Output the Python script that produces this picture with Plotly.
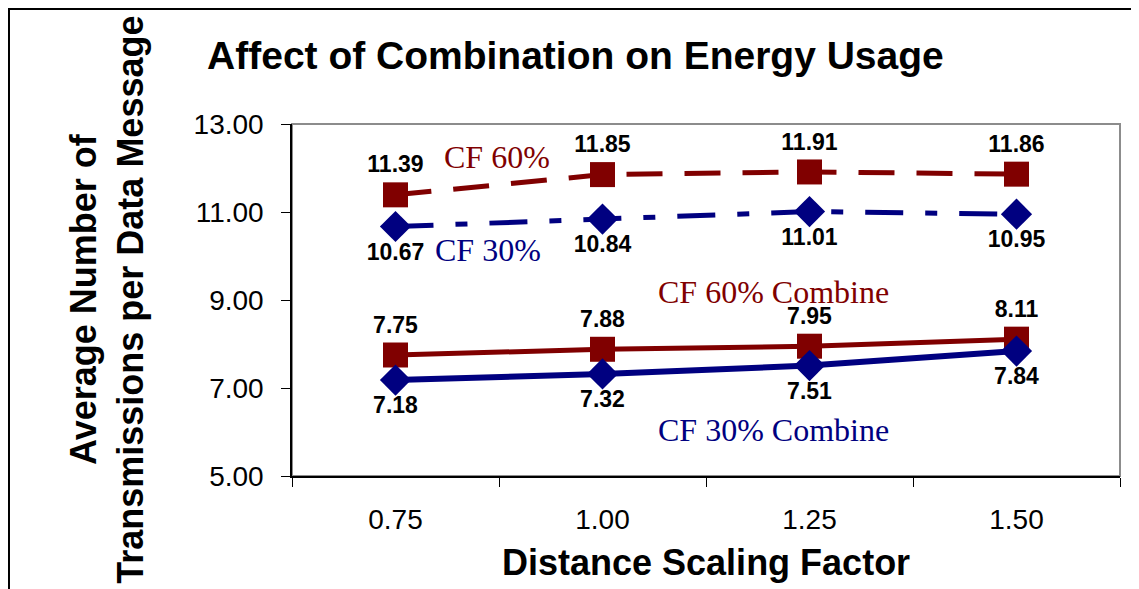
"""Affect of combination on energy usage - line chart."""

import plotly.graph_objects as go

scaling_factors = ["0.75", "1.00", "1.25", "1.50"]
cf60 = [11.39, 11.85, 11.91, 11.86]
cf30 = [10.67, 10.84, 11.01, 10.95]
cf60_combine = [7.75, 7.88, 7.95, 8.11]
cf30_combine = [7.18, 7.32, 7.51, 7.84]

RED = "#800000"
NAVY = "#000080"
SANS = "Liberation Sans, Arial, sans-serif"
SERIF = "Liberation Serif, Times New Roman, serif"

fig = go.Figure()


def add_series(values, color, width, dash, symbol, size, textpos):
    fig.add_trace(go.Scatter(
        x=scaling_factors, y=values, mode="lines+markers+text",
        line=dict(color=color, width=width, dash=dash),
        marker=dict(symbol=symbol, size=size, color=color),
        text=[f"{v:.2f}" for v in values], texttemplate="<b>%{text}</b>",
        textposition=textpos, textfont=dict(family=SANS, size=23, color="black"),
        cliponaxis=False, showlegend=False,
    ))


add_series(cf60, RED, 5, "36px,22px", "square", 25, "top center")
add_series(cf30, NAVY, 5, "38px,22px,12px,22px", "diamond", 24, "bottom center")
add_series(cf60_combine, RED, 5, "solid", "square", 25, "top center")
add_series(cf30_combine, NAVY, 6, "solid", "diamond", 24, "bottom center")

series_notes = [
    ("CF 60%", RED, 0.248, 0.906),
    ("CF 30%", NAVY, 0.237, 0.642),
    ("CF 60% Combine", RED, 0.582, 0.524),
    ("CF 30% Combine", NAVY, 0.582, 0.131),
]
for label, color, ax, ay in series_notes:
    fig.add_annotation(text=label, xref="paper", yref="paper", x=ax, y=ay,
                       xanchor="center", yanchor="middle", showarrow=False,
                       font=dict(family=SERIF, size=32, color=color))

fig.add_annotation(text="<b>Average Number of<br>Transmissions per Data Message</b>",
                   xref="paper", yref="paper", x=-0.2237, y=0.5, textangle=-90,
                   xanchor="center", yanchor="middle", showarrow=False,
                   font=dict(family=SANS, size=36, color="black"))
fig.add_annotation(text="<b>Distance Scaling Factor</b>", xref="paper", yref="paper",
                   x=0.5, y=-0.247, xanchor="center", yanchor="middle", showarrow=False,
                   font=dict(family=SANS, size=36, color="black"))

# gray plot border and outer black frame
fig.add_shape(type="rect", xref="paper", yref="paper", x0=0, x1=1, y0=0, y1=1,
              line=dict(color="#8c8c8c", width=2), layer="below")
fig.add_shape(type="rect", xref="paper", yref="paper", x0=-0.3418, x1=1.0205,
              y0=-0.6, y1=1.3267, line=dict(color="black", width=2))

fig.update_layout(
    width=1131, height=581,
    margin=dict(l=284, r=19, t=116, b=113),
    paper_bgcolor="white", plot_bgcolor="white",
    font=dict(family=SANS, color="black"),
    title=dict(text="<b>Affect of Combination on Energy Usage</b>", xref="container",
               yref="container", x=0.176, xanchor="left", y=0.919, yanchor="middle",
               font=dict(family=SANS, size=39, color="black")),
    xaxis=dict(type="category", range=[-0.5, 3.5], tickson="boundaries",
               ticks="outside", ticklen=9, tickcolor="black", showline=True,
               linecolor="black", linewidth=1.5, showgrid=False,
               tickfont=dict(size=28), ticklabelstandoff=18),
    yaxis=dict(range=[5, 13], tick0=5, dtick=2, tickformat=".2f", ticks="outside",
               ticklen=9, tickcolor="black", showline=True, linecolor="black",
               linewidth=1.5, showgrid=False, zeroline=False, tickfont=dict(size=28),
               ticklabelstandoff=12),
)

fig.write_html("out.html")
